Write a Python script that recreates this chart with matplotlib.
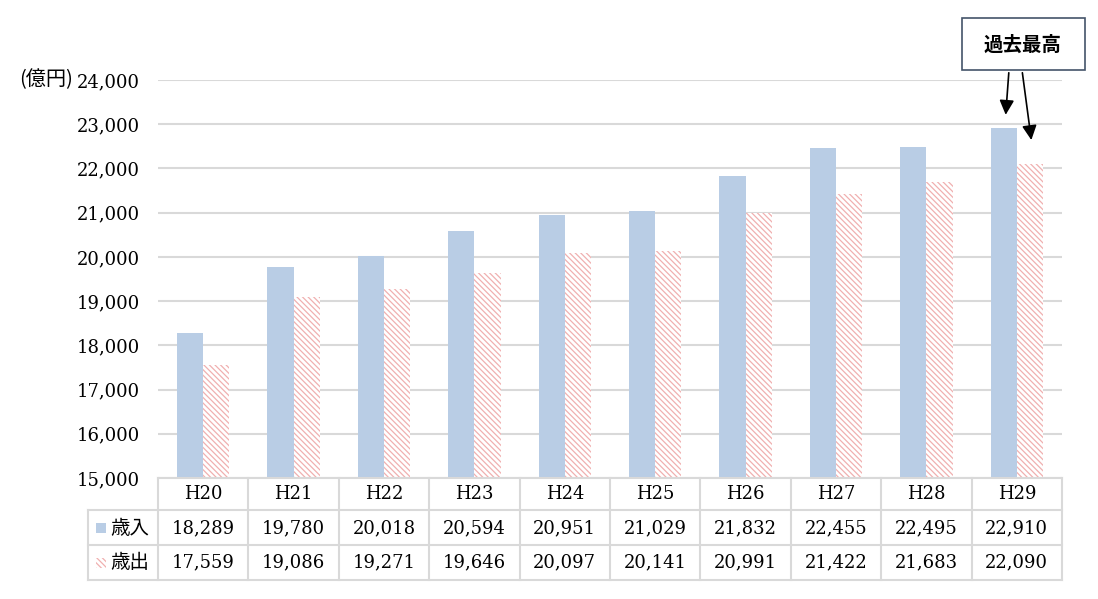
import matplotlib.pyplot as plt
from matplotlib.patches import Rectangle
import matplotlib as mpl

plt.rcParams['hatch.linewidth'] = 0.9

years = ['H20', 'H21', 'H22', 'H23', 'H24', 'H25', 'H26', 'H27', 'H28', 'H29']
revenue = [18289, 19780, 20018, 20594, 20951, 21029, 21832, 22455, 22495, 22910]
expend = [17559, 19086, 19271, 19646, 20097, 20141, 20991, 21422, 21683, 22090]
yticks = list(range(15000, 24001, 1000))

blue = '#b9cde5'
pink = '#f0b0b0'
grid = '#d9d9d9'
serif = ['DejaVu Serif']
jp = ['Noto Sans CJK JP', 'DejaVu Sans']
hatch = '\\\\\\\\\\\\'

W, H = 1098, 599
fig = plt.figure(figsize=(W / 100, H / 100), dpi=100)
ax = fig.add_axes([158 / W, 1 - 478 / H, (1062 - 158) / W, (478 - 80) / H])

x = list(range(len(years)))
bw = 0.29
ax.bar([i - bw / 2 for i in x], revenue, width=bw, color=blue, zorder=3)
mpl.rcParams['hatch.color'] = pink
ax.bar([i + bw / 2 for i in x], expend, width=bw, color='white', hatch=hatch,
       edgecolor=pink, linewidth=0, zorder=3)

ax.set_xlim(-0.5, len(years) - 0.5)
ax.set_ylim(15000, 24000)
ax.set_yticks(yticks)
ax.set_yticklabels([f'{v:,}' for v in yticks], fontsize=13, family=serif)
ax.tick_params(axis='y', length=0, pad=13)
ax.set_xticks([])
for s in ax.spines.values():
    s.set_visible(False)
ax.grid(axis='y', color=grid, linewidth=1.5, zorder=0)

# data table below the axes
def fy(py):
    return 1 - py / H

fig.text(73 / W, fy(80), '(億円)', ha='right', va='center', fontsize=14.5, family=jp)

tf = fig.transFigure
row_y = [478, 510, 545, 580]
col_x = [158 + i * 90.4 for i in range(len(years) + 1)]
for cx in col_x:
    fig.add_artist(plt.Line2D([cx / W, cx / W], [fy(478), fy(580)], color=grid, lw=1.5))
fig.add_artist(plt.Line2D([88 / W, 88 / W], [fy(510), fy(580)], color=grid, lw=1.5))
fig.add_artist(plt.Line2D([158 / W, col_x[-1] / W], [fy(478), fy(478)], color=grid, lw=1.5))
for ry in row_y[1:]:
    fig.add_artist(plt.Line2D([88 / W, col_x[-1] / W], [fy(ry), fy(ry)], color=grid, lw=1.5))

for i, yr in enumerate(years):
    cx = (col_x[i] + col_x[i + 1]) / 2 / W
    fig.text(cx, fy(494), yr, ha='center', va='center', fontsize=13, family=serif)
    fig.text(cx, fy(528), f'{revenue[i]:,}', ha='center', va='center', fontsize=13, family=serif)
    fig.text(cx, fy(562), f'{expend[i]:,}', ha='center', va='center', fontsize=13, family=serif)

fig.add_artist(Rectangle((96 / W, fy(533)), 10 / W, 10 / H, transform=tf,
                         facecolor=blue, edgecolor='none'))
fig.add_artist(Rectangle((96 / W, fy(568)), 10 / W, 10 / H, transform=tf,
                         facecolor='white', edgecolor=pink, hatch=hatch, linewidth=0))
fig.text(110 / W, fy(528), '歳入', ha='left', va='center', fontsize=14, family=jp)
fig.text(110 / W, fy(562), '歳出', ha='left', va='center', fontsize=14, family=jp)

# annotation box
fig.add_artist(Rectangle((962 / W, fy(70)), 123 / W, 52 / H, transform=tf,
                         facecolor='white', edgecolor='#44546a', linewidth=1.2))
fig.text(1023 / W, fy(45), '過去最高', ha='center', va='center', fontsize=14,
         family=jp, weight='bold')
ax.annotate('', xy=(9 - bw / 2 + 0.02, 23150), xycoords='data',
            xytext=(1009 / W, fy(70)), textcoords='figure fraction',
            arrowprops=dict(arrowstyle='-|>', color='black', lw=1.2, mutation_scale=22),
            annotation_clip=False)
ax.annotate('', xy=(9 + bw / 2 + 0.02, 22580), xycoords='data',
            xytext=(1022 / W, fy(70)), textcoords='figure fraction',
            arrowprops=dict(arrowstyle='-|>', color='black', lw=1.2, mutation_scale=22),
            annotation_clip=False)

fig.savefig('out.png', dpi=100)
